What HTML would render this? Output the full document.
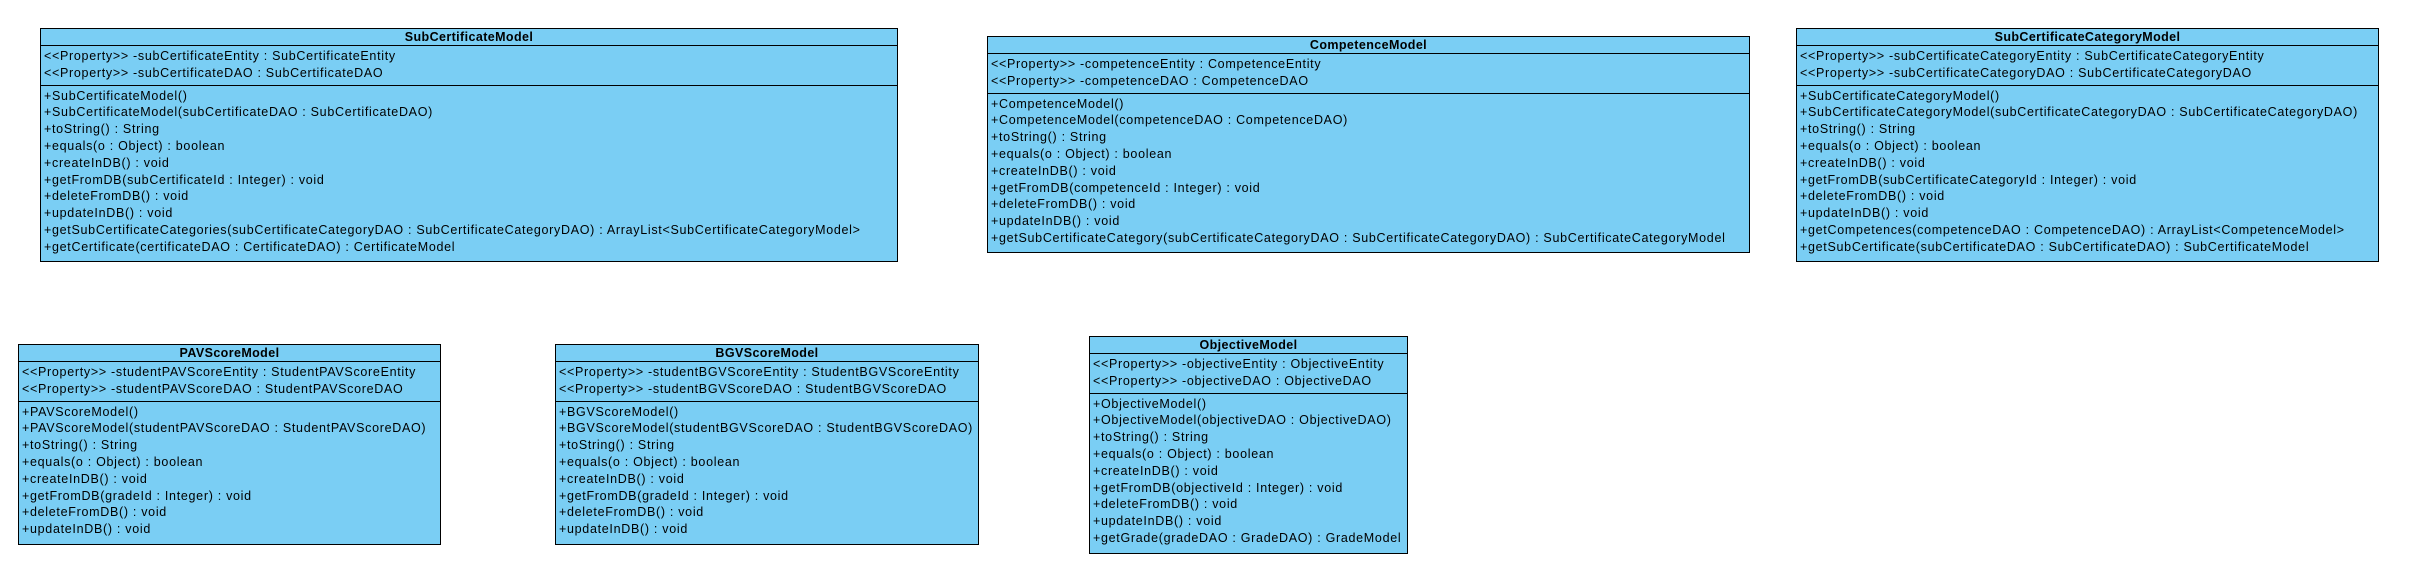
<!DOCTYPE html>
<html><head><meta charset="utf-8"><style>
body{margin:0;width:2416px;height:570px;background:#fff;position:relative;overflow:hidden;font-family:"Liberation Sans",sans-serif;font-size:12.5px;color:#000;letter-spacing:0.7px}
.b{position:absolute;background:#7acef4;border:1.5px solid #000;box-sizing:border-box}
.h{height:16px;line-height:16px;text-align:center;font-weight:bold;border-bottom:1.5px solid #000;letter-spacing:0.4px}
.a{padding:2px 0 3px 3px;border-bottom:1.5px solid #000}
.m{padding:2px 0 0 3px}
.r{height:16.8px;line-height:16.8px;white-space:nowrap}
</style></head><body>

<div class="b" style="left:40px;top:28px;width:858px;height:234px">
<div class="h">SubCertificateModel</div>
<div class="a"><div class="r">&lt;&lt;Property&gt;&gt; -subCertificateEntity : SubCertificateEntity</div><div class="r">&lt;&lt;Property&gt;&gt; -subCertificateDAO : SubCertificateDAO</div></div>
<div class="m">
<div class="r">+SubCertificateModel()</div>
<div class="r">+SubCertificateModel(subCertificateDAO : SubCertificateDAO)</div>
<div class="r">+toString() : String</div>
<div class="r">+equals(o : Object) : boolean</div>
<div class="r">+createInDB() : void</div>
<div class="r">+getFromDB(subCertificateId : Integer) : void</div>
<div class="r">+deleteFromDB() : void</div>
<div class="r">+updateInDB() : void</div>
<div class="r">+getSubCertificateCategories(subCertificateCategoryDAO : SubCertificateCategoryDAO) : ArrayList&lt;SubCertificateCategoryModel&gt;</div>
<div class="r">+getCertificate(certificateDAO : CertificateDAO) : CertificateModel</div>
</div></div>

<div class="b" style="left:987px;top:36px;width:763px;height:217px">
<div class="h">CompetenceModel</div>
<div class="a"><div class="r">&lt;&lt;Property&gt;&gt; -competenceEntity : CompetenceEntity</div><div class="r">&lt;&lt;Property&gt;&gt; -competenceDAO : CompetenceDAO</div></div>
<div class="m">
<div class="r">+CompetenceModel()</div>
<div class="r">+CompetenceModel(competenceDAO : CompetenceDAO)</div>
<div class="r">+toString() : String</div>
<div class="r">+equals(o : Object) : boolean</div>
<div class="r">+createInDB() : void</div>
<div class="r">+getFromDB(competenceId : Integer) : void</div>
<div class="r">+deleteFromDB() : void</div>
<div class="r">+updateInDB() : void</div>
<div class="r">+getSubCertificateCategory(subCertificateCategoryDAO : SubCertificateCategoryDAO) : SubCertificateCategoryModel</div>
</div></div>

<div class="b" style="left:1796px;top:28px;width:583px;height:234px">
<div class="h">SubCertificateCategoryModel</div>
<div class="a"><div class="r">&lt;&lt;Property&gt;&gt; -subCertificateCategoryEntity : SubCertificateCategoryEntity</div><div class="r">&lt;&lt;Property&gt;&gt; -subCertificateCategoryDAO : SubCertificateCategoryDAO</div></div>
<div class="m">
<div class="r">+SubCertificateCategoryModel()</div>
<div class="r">+SubCertificateCategoryModel(subCertificateCategoryDAO : SubCertificateCategoryDAO)</div>
<div class="r">+toString() : String</div>
<div class="r">+equals(o : Object) : boolean</div>
<div class="r">+createInDB() : void</div>
<div class="r">+getFromDB(subCertificateCategoryId : Integer) : void</div>
<div class="r">+deleteFromDB() : void</div>
<div class="r">+updateInDB() : void</div>
<div class="r">+getCompetences(competenceDAO : CompetenceDAO) : ArrayList&lt;CompetenceModel&gt;</div>
<div class="r">+getSubCertificate(subCertificateDAO : SubCertificateDAO) : SubCertificateModel</div>
</div></div>

<div class="b" style="left:18px;top:344px;width:423px;height:201px">
<div class="h">PAVScoreModel</div>
<div class="a"><div class="r">&lt;&lt;Property&gt;&gt; -studentPAVScoreEntity : StudentPAVScoreEntity</div><div class="r">&lt;&lt;Property&gt;&gt; -studentPAVScoreDAO : StudentPAVScoreDAO</div></div>
<div class="m">
<div class="r">+PAVScoreModel()</div>
<div class="r">+PAVScoreModel(studentPAVScoreDAO : StudentPAVScoreDAO)</div>
<div class="r">+toString() : String</div>
<div class="r">+equals(o : Object) : boolean</div>
<div class="r">+createInDB() : void</div>
<div class="r">+getFromDB(gradeId : Integer) : void</div>
<div class="r">+deleteFromDB() : void</div>
<div class="r">+updateInDB() : void</div>
</div></div>

<div class="b" style="left:555px;top:344px;width:424px;height:201px">
<div class="h">BGVScoreModel</div>
<div class="a"><div class="r">&lt;&lt;Property&gt;&gt; -studentBGVScoreEntity : StudentBGVScoreEntity</div><div class="r">&lt;&lt;Property&gt;&gt; -studentBGVScoreDAO : StudentBGVScoreDAO</div></div>
<div class="m">
<div class="r">+BGVScoreModel()</div>
<div class="r">+BGVScoreModel(studentBGVScoreDAO : StudentBGVScoreDAO)</div>
<div class="r">+toString() : String</div>
<div class="r">+equals(o : Object) : boolean</div>
<div class="r">+createInDB() : void</div>
<div class="r">+getFromDB(gradeId : Integer) : void</div>
<div class="r">+deleteFromDB() : void</div>
<div class="r">+updateInDB() : void</div>
</div></div>

<div class="b" style="left:1089px;top:336px;width:319px;height:218px">
<div class="h">ObjectiveModel</div>
<div class="a"><div class="r">&lt;&lt;Property&gt;&gt; -objectiveEntity : ObjectiveEntity</div><div class="r">&lt;&lt;Property&gt;&gt; -objectiveDAO : ObjectiveDAO</div></div>
<div class="m">
<div class="r">+ObjectiveModel()</div>
<div class="r">+ObjectiveModel(objectiveDAO : ObjectiveDAO)</div>
<div class="r">+toString() : String</div>
<div class="r">+equals(o : Object) : boolean</div>
<div class="r">+createInDB() : void</div>
<div class="r">+getFromDB(objectiveId : Integer) : void</div>
<div class="r">+deleteFromDB() : void</div>
<div class="r">+updateInDB() : void</div>
<div class="r">+getGrade(gradeDAO : GradeDAO) : GradeModel</div>
</div></div>

</body></html>
